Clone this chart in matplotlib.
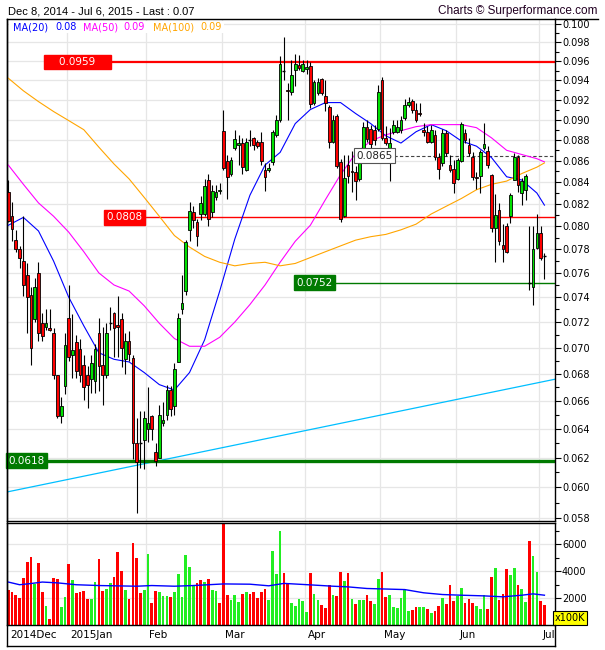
import numpy as np
import matplotlib
matplotlib.use('Agg')
import matplotlib.pyplot as plt
from matplotlib.lines import Line2D
from matplotlib.ticker import FixedLocator, NullFormatter, FuncFormatter

#=========================================================================
# daily candles Dec 8 2014 .. Jul 6 2015
opens = [0.0831, 0.0809, 0.0788, 0.0780, 0.0770, 0.0758, 0.0742, 0.0722, 0.0760, 0.0719,
         0.0716, 0.0715, 0.0711, 0.0679, 0.0649, 0.0671, 0.0723, 0.0694, 0.0704, 0.0699,
         0.0687, 0.0679, 0.0676, 0.0675, 0.0711, 0.0687, 0.0679, 0.0719, 0.0727, 0.0718,
         0.0722, 0.0691, 0.0705, 0.0692, 0.0630, 0.0630, 0.0632, 0.0640, 0.0649, 0.0624,
         0.0620, 0.0644, 0.0650, 0.0668, 0.0656, 0.0689, 0.0730, 0.0745, 0.0797, 0.0813,
         0.0804, 0.0811, 0.0811, 0.0842, 0.0813, 0.0826, 0.0832, 0.0889, 0.0860, 0.0848,
         0.0872, 0.0875, 0.0877, 0.0851, 0.0880, 0.0882, 0.0878, 0.0878, 0.0851, 0.0851,
         0.0859, 0.0885, 0.0900, 0.0950, 0.0930, 0.0928, 0.0951, 0.0956, 0.0949, 0.0952,
         0.0955, 0.0917, 0.0927, 0.0941, 0.0924, 0.0913, 0.0878, 0.0904, 0.0859, 0.0809,
         0.0856, 0.0850, 0.0849, 0.0843, 0.0860, 0.0893, 0.0891, 0.0890, 0.0891, 0.0940,
         0.0882, 0.0871, 0.0888, 0.0888, 0.0890, 0.0902, 0.0915, 0.0919, 0.0910, 0.0907,
         0.0890, 0.0888, 0.0878, 0.0885, 0.0864, 0.0858, 0.0887, 0.0856, 0.0852, 0.0843,
         0.0860, 0.0887, 0.0875, 0.0864, 0.0845, 0.0846, 0.0872, 0.0869, 0.0847, 0.0799,
         0.0815, 0.0784, 0.0800, 0.0809, 0.0842, 0.0864, 0.0830, 0.0833, 0.0752, 0.0748,
         0.0781, 0.0794, 0.0774]
highs = [0.0842, 0.0822, 0.0797, 0.0783, 0.0809, 0.0768, 0.0748, 0.0756, 0.0769, 0.0727,
         0.0730, 0.0730, 0.0715, 0.0679, 0.0663, 0.0711, 0.0750, 0.0726, 0.0710, 0.0707,
         0.0694, 0.0686, 0.0694, 0.0703, 0.0723, 0.0716, 0.0719, 0.0732, 0.0728, 0.0741,
         0.0727, 0.0711, 0.0713, 0.0694, 0.0648, 0.0653, 0.0653, 0.0670, 0.0650, 0.0630,
         0.0657, 0.0659, 0.0672, 0.0671, 0.0688, 0.0727, 0.0758, 0.0788, 0.0822, 0.0818,
         0.0807, 0.0827, 0.0843, 0.0848, 0.0837, 0.0837, 0.0839, 0.0910, 0.0866, 0.0864,
         0.0890, 0.0885, 0.0882, 0.0882, 0.0890, 0.0883, 0.0880, 0.0888, 0.0858, 0.0858,
         0.0890, 0.0905, 0.0965, 0.0986, 0.0937, 0.0961, 0.0967, 0.0966, 0.0961, 0.0961,
         0.0959, 0.0940, 0.0942, 0.0942, 0.0940, 0.0915, 0.0905, 0.0906, 0.0862, 0.0866,
         0.0866, 0.0869, 0.0855, 0.0864, 0.0898, 0.0900, 0.0895, 0.0895, 0.0935, 0.0943,
         0.0894, 0.0892, 0.0900, 0.0900, 0.0904, 0.0921, 0.0923, 0.0921, 0.0917, 0.0917,
         0.0897, 0.0894, 0.0895, 0.0890, 0.0867, 0.0891, 0.0890, 0.0866, 0.0861, 0.0863,
         0.0898, 0.0891, 0.0882, 0.0868, 0.0849, 0.0870, 0.0897, 0.0874, 0.0848, 0.0829,
         0.0821, 0.0802, 0.0803, 0.0830, 0.0867, 0.0866, 0.0844, 0.0848, 0.0800, 0.0800,
         0.0811, 0.0800, 0.0777]
lows = [0.0804, 0.0787, 0.0778, 0.0764, 0.0741, 0.0711, 0.0687, 0.0720, 0.0705, 0.0705,
        0.0714, 0.0713, 0.0676, 0.0648, 0.0644, 0.0665, 0.0690, 0.0677, 0.0677, 0.0674,
        0.0661, 0.0655, 0.0666, 0.0666, 0.0667, 0.0657, 0.0677, 0.0714, 0.0693, 0.0693,
        0.0685, 0.0680, 0.0690, 0.0619, 0.0583, 0.0613, 0.0612, 0.0631, 0.0632, 0.0614,
        0.0620, 0.0642, 0.0646, 0.0649, 0.0650, 0.0689, 0.0726, 0.0742, 0.0787, 0.0799,
        0.0783, 0.0806, 0.0809, 0.0800, 0.0808, 0.0824, 0.0829, 0.0851, 0.0825, 0.0846,
        0.0870, 0.0856, 0.0848, 0.0850, 0.0874, 0.0870, 0.0872, 0.0856, 0.0832, 0.0849,
        0.0856, 0.0883, 0.0898, 0.0940, 0.0900, 0.0925, 0.0934, 0.0951, 0.0948, 0.0946,
        0.0912, 0.0915, 0.0925, 0.0925, 0.0909, 0.0872, 0.0877, 0.0853, 0.0804, 0.0808,
        0.0839, 0.0831, 0.0824, 0.0841, 0.0859, 0.0878, 0.0870, 0.0875, 0.0889, 0.0880,
        0.0875, 0.0841, 0.0886, 0.0887, 0.0887, 0.0900, 0.0913, 0.0907, 0.0898, 0.0904,
        0.0884, 0.0877, 0.0877, 0.0861, 0.0843, 0.0855, 0.0865, 0.0849, 0.0830, 0.0842,
        0.0859, 0.0877, 0.0865, 0.0842, 0.0834, 0.0830, 0.0870, 0.0853, 0.0795, 0.0769,
        0.0784, 0.0769, 0.0777, 0.0803, 0.0842, 0.0831, 0.0819, 0.0824, 0.0746, 0.0734,
        0.0780, 0.0771, 0.0755]
closes = [0.0805, 0.0798, 0.0780, 0.0773, 0.0750, 0.0740, 0.0700, 0.0748, 0.0711, 0.0709,
          0.0719, 0.0714, 0.0679, 0.0649, 0.0656, 0.0702, 0.0693, 0.0698, 0.0682, 0.0679,
          0.0670, 0.0672, 0.0688, 0.0699, 0.0686, 0.0679, 0.0711, 0.0719, 0.0715, 0.0716,
          0.0700, 0.0705, 0.0695, 0.0630, 0.0617, 0.0630, 0.0648, 0.0644, 0.0640, 0.0618,
          0.0650, 0.0646, 0.0668, 0.0654, 0.0684, 0.0723, 0.0735, 0.0786, 0.0814, 0.0806,
          0.0792, 0.0821, 0.0836, 0.0807, 0.0832, 0.0831, 0.0833, 0.0853, 0.0845, 0.0861,
          0.0881, 0.0877, 0.0854, 0.0878, 0.0880, 0.0875, 0.0874, 0.0860, 0.0845, 0.0853,
          0.0888, 0.0900, 0.0957, 0.0950, 0.0929, 0.0945, 0.0957, 0.0953, 0.0957, 0.0954,
          0.0916, 0.0938, 0.0938, 0.0927, 0.0917, 0.0878, 0.0900, 0.0855, 0.0807, 0.0844,
          0.0846, 0.0849, 0.0841, 0.0860, 0.0893, 0.0881, 0.0876, 0.0880, 0.0928, 0.0882,
          0.0877, 0.0877, 0.0895, 0.0893, 0.0900, 0.0915, 0.0918, 0.0910, 0.0900, 0.0906,
          0.0888, 0.0878, 0.0890, 0.0864, 0.0852, 0.0887, 0.0867, 0.0851, 0.0839, 0.0861,
          0.0896, 0.0880, 0.0867, 0.0845, 0.0844, 0.0868, 0.0876, 0.0856, 0.0799, 0.0810,
          0.0787, 0.0780, 0.0778, 0.0828, 0.0864, 0.0837, 0.0841, 0.0846, 0.0752, 0.0780,
          0.0794, 0.0773, 0.0774]

# volume in units of 100K shares
volumes = [2640, 2470, 2200, 2030, 3510, 4690, 5060, 3090, 4620, 2470,
           1430, 420, 3510, 3430, 1360, 2100, 4550, 3360, 2400, 2470,
           2570, 1950, 1950, 3210, 4920, 2540, 2690, 3140, 3580, 5430,
           4050, 2620, 1950, 6100, 4990, 2400, 2620, 5290, 1660, 2540,
           2470, 2170, 2170, 2100, 2470, 3800, 2100, 5210, 4320, 2920,
           3140, 3360, 3210, 3430, 2620, 2540, 1660, 7580, 2250, 1880,
           2250, 1730, 2320, 2470, 2320, 2470, 2030, 2470, 2690, 1880,
           5510, 3800, 6990, 3880, 3060, 1660, 1430, 1950, 1800, 990,
           3880, 2320, 1880, 1510, 1280, 2990, 2250, 2170, 3950, 3290,
           3880, 1950, 1580, 1880, 1880, 2250, 1800, 1580, 3430, 3950,
           2100, 2250, 1360, 1280, 2030, 2690, 1060, 1140, 1360, 1360,
           1360, 1210, 910, 1060, 1430, 2030, 1580, 2990, 1800, 2170,
           2770, 1660, 1950, 1660, 1430, 1210, 2250, 1210, 3580, 4250,
           1880, 2320, 4170, 3730, 4250, 2990, 2690, 1730, 6250, 5140,
           3950, 1800, 1510]
vol_dir = list('rrrrrrrgrr' 'grrrggrgrr' 'rrggrrggrr' 'rgrrrrggrr' 'gggrgggggg'
               'rrgrggrrrg' 'ggrgrrrrrg' 'gggrrggggg' 'rggrrrgrrg' 'rgrggrrggr'
               'rggggggrrg' 'grgrrgrrrg' 'grrrgggrrg' 'rrrggrggrg' 'grr')

# moving averages (candle index, value)
ma_idx = [0, 4, 8, 12, 16, 20, 24, 28, 32, 36, 40, 44, 48, 52, 56, 60, 64, 68,
          72, 76, 80, 84, 88, 92, 96, 100, 104, 108, 112, 116, 120, 124, 128,
          132, 136, 140, 142]
ma20 = [0.0801, 0.0808, 0.0796, 0.0770, 0.0740, 0.0717, 0.0696, 0.0691, 0.0689,
        0.0681, 0.0672, 0.0668, 0.0681, 0.0706, 0.0745, 0.0789, 0.0828, 0.0856,
        0.0868, 0.0896, 0.0910, 0.0917, 0.0917, 0.0906, 0.0896, 0.0884, 0.0877,
        0.0888, 0.0895, 0.0889, 0.0879, 0.0874, 0.0863, 0.0845, 0.0842, 0.0830,
        0.0819]
ma50 = [0.0856, 0.0838, 0.0821, 0.0809, 0.0795, 0.0778, 0.0760, 0.0750, 0.0745,
        0.0733, 0.0719, 0.0707, 0.0701, 0.0701, 0.0708, 0.0720, 0.0734, 0.0750,
        0.0769, 0.0787, 0.0801, 0.0824, 0.0847, 0.0867, 0.0879, 0.0885, 0.0889,
        0.0893, 0.0895, 0.0895, 0.0895, 0.0892, 0.0882, 0.0870, 0.0866, 0.0862,
        0.0859]
ma100 = [0.0942, 0.0929, 0.0918, 0.0908, 0.0899, 0.0890, 0.0873, 0.0857, 0.0843,
         0.0826, 0.0809, 0.0792, 0.0782, 0.0774, 0.0769, 0.0766, 0.0768, 0.0769,
         0.0766, 0.0768, 0.0773, 0.0778, 0.0783, 0.0788, 0.0791, 0.0793, 0.0797,
         0.0802, 0.0811, 0.0818, 0.0825, 0.0833, 0.0838, 0.0841, 0.0848, 0.0854,
         0.0858]

vol_ma_idx = [0, 3, 6, 9, 13, 18, 24, 34, 38, 44, 49, 57, 64, 69, 73, 80, 86, 90,
              95, 105, 110, 115, 120, 126, 131, 136, 139, 142]
vol_ma = [3200, 3000, 3090, 3200, 3140, 3000, 2940, 2890, 2940, 2890, 2940, 3060,
          3040, 2920, 3100, 2990, 2890, 2840, 2720, 2640, 2400, 2270, 2220, 2170,
          2100, 2220, 2320, 2220]

# support / resistance levels: (value, first candle index)
levels = [0.0959, 0.0808, 0.0752, 0.0618]
level_start = [9.7, 25.6, 76.0, -0.34]
level_color = ['#ff0000', '#ff0000', '#007a00', '#007a00']
level_lw = [1.6, 1.0, 1.0, 2.4]
level_text = ['    0.0959    ', '0.0808', '0.0752', '0.0618']
last_mark = 0.0865
last_mark_start = 91.8

# trend line end points (index, value)
trend_x = [-0.34, 144.8]
trend_y = [0.0597, 0.0676]

month_pos = [-0.5, 15.5, 36.5, 56.5, 78.5, 98.5, 118.5, 140.5]
month_lab = ['2014Dec', '2015Jan', 'Feb', 'Mar', 'Apr', 'May', 'Jun', 'Jul']

legend_items = [('MA(20)', '0.08', '#0000ff'), ('MA(50)', '0.09', '#ff00ff'),
                ('MA(100)', '0.09', '#ffa500')]

#=========================================================================
W, H = 605.0, 650.0
def fx(px):
  return px / W
def fy(py):
  return 1.0 - py / H

plt.rcParams['font.family'] = ['DejaVu Sans']

fig = plt.figure(figsize=(6.05, 6.5), dpi=100)
fig.patch.set_facecolor('white')

ax = fig.add_axes([fx(7), fy(521), (555 - 7) / W, (521 - 19) / H])
axv = fig.add_axes([fx(7), fy(625), (555 - 7) / W, (625 - 523) / H])

n = len(opens)
idx = np.arange(n)
o = np.array(opens)
h = np.array(highs)
l = np.array(lows)
c = np.array(closes)

grid_col = '#e6e6e6'

# ---- price panel
ax.set_yscale('log')
ax.set_xlim(-0.34, 144.8)
ax.set_ylim(0.05782, 0.10055)

yt = np.arange(0.058, 0.1001, 0.002)
ax.yaxis.set_major_locator(FixedLocator(yt))
ax.yaxis.set_minor_locator(FixedLocator(np.arange(0.059, 0.1, 0.002)))
ax.yaxis.set_major_formatter(FuncFormatter(lambda v, p: '%.3f' % v))
ax.yaxis.set_minor_formatter(NullFormatter())
ax.yaxis.tick_right()
ax.tick_params(axis='y', which='major', direction='out', length=4, width=0.8,
               labelsize=7, pad=1)
ax.tick_params(axis='y', which='minor', direction='out', length=3, width=0.8)
ax.set_xticks([])
for yv in yt:
  ax.axhline(yv, color=grid_col, lw=0.9, zorder=0)
for mp in month_pos[1:]:
  ax.axvline(mp, color=grid_col, lw=0.9, zorder=0)

# trend line
ax.plot(trend_x, trend_y, color='#00bfff', lw=0.9, zorder=1)

# levels
for lv, st, col, lw in zip(levels, level_start, level_color, level_lw):
  ax.plot([st, 144.8], [lv, lv], color=col, lw=lw, zorder=2, solid_capstyle='butt')
ax.plot([last_mark_start, 144.8], [last_mark, last_mark], color='#444444',
        lw=0.8, ls=(0, (3, 2)), zorder=2)

# moving averages
ax.plot(ma_idx, ma20, color='#0000ff', lw=0.8, zorder=3)
ax.plot(ma_idx, ma50, color='#ff00ff', lw=0.8, zorder=3)
ax.plot(ma_idx, ma100, color='#ffa500', lw=0.8, zorder=3)

# candles
ax.vlines(idx, l, h, color='black', lw=0.8, zorder=4)
up = c > o
dn = c < o
flat = c == o
body_lo = np.minimum(o, c)
body_hi = np.maximum(o, c)
ax.bar(idx[up], (body_hi - body_lo)[up], bottom=body_lo[up], width=0.72,
       color='#00e000', edgecolor='black', linewidth=0.6, zorder=5)
ax.bar(idx[dn], (body_hi - body_lo)[dn], bottom=body_lo[dn], width=0.72,
       color='#ff0000', edgecolor='black', linewidth=0.6, zorder=5)
ax.hlines(c[flat], idx[flat] - 0.4, idx[flat] + 0.4, color='black', lw=1.0, zorder=5)

# level labels
lab_style = dict(fontsize=7.5, va='center', ha='left', zorder=6)
for lv, st, col, txt in zip(levels, level_start, level_color, level_text):
  ax.text(st + 0.35, lv, txt, color='white',
          bbox=dict(boxstyle='square,pad=0.22', fc=col, ec=col), **lab_style)
ax.text(last_mark_start + 0.35, last_mark, '%.4f' % last_mark, color='#222222',
        bbox=dict(boxstyle='square,pad=0.22', fc='white', ec='#555555', lw=0.8),
        **lab_style)

for sp in ax.spines.values():
  sp.set_color('black')
  sp.set_linewidth(1.0)

# legend row
lx = [13, 55, 83, 123, 153, 200]
fig.patches.append(matplotlib.patches.Rectangle((fx(9), fy(33)), fx(224) - fx(9),
                   fy(21) - fy(33), transform=fig.transFigure, fc='white',
                   ec='none', zorder=10))
k = 0
for name, val, col in legend_items:
  fig.text(fx(lx[k]), fy(27.5), name, color=col, fontsize=7, va='center', zorder=11)
  fig.text(fx(lx[k + 1]), fy(27.5), val, color=col, fontsize=7, va='center', zorder=11)
  k += 2

# ---- volume panel
vcol = ['#ff0000' if d == 'r' else '#22ee22' for d in vol_dir]
axv.bar(idx, volumes, width=0.72, color=vcol, linewidth=0, zorder=2)
axv.plot(vol_ma_idx, vol_ma, color='#0000ff', lw=1.0, zorder=3)
axv.set_xlim(-0.34, 144.8)
axv.set_ylim(0, 7600)
axv.yaxis.tick_right()
axv.yaxis.set_major_locator(FixedLocator([2000, 4000, 6000]))
axv.yaxis.set_minor_locator(FixedLocator([1000, 3000, 5000, 7000]))
axv.yaxis.set_major_formatter(FuncFormatter(lambda v, p: '%d' % v))
axv.tick_params(axis='y', which='major', direction='out', length=4, width=0.8,
                labelsize=7, pad=1)
axv.tick_params(axis='y', which='minor', direction='out', length=3, width=0.8)
axv.set_xticks([])
for yv in [2000, 4000, 6000]:
  axv.axhline(yv, color=grid_col, lw=0.9, zorder=0)
for mp in month_pos[1:]:
  axv.axvline(mp, color=grid_col, lw=0.9, zorder=0)
for sp in axv.spines.values():
  sp.set_color('black')
  sp.set_linewidth(1.0)

for mp, ml in zip(month_pos, month_lab):
  axv.text(mp + 0.9, -0.10, ml, transform=axv.get_xaxis_transform(), fontsize=7.5,
           ha='left', va='center')

axv.text(1.0, 0.02, 'x100K', transform=axv.transAxes, fontsize=7, ha='left',
         va='bottom', bbox=dict(boxstyle='square,pad=0.2', fc='#ffff00', ec='black',
         lw=0.8))

# outer frame lines
frame = [([7, 7], [19, 646]), ([7, 555], [646, 646]), ([555, 555], [625, 646]),
         ([555, 598], [19, 19])]
for xs, ys in frame:
  fig.lines.append(Line2D([fx(v) for v in xs], [fy(v) for v in ys],
                   transform=fig.transFigure, color='black', lw=1.0))

# header
fig.text(fx(8), fy(11), 'Dec 8, 2014 - Jul 6, 2015 - Last : 0.07', fontsize=8,
         family=['Liberation Sans'], va='center', ha='left')
fig.text(fx(598), fy(11), 'Charts \u00a9 Surperformance.com', fontsize=8.5,
         family=['Liberation Sans'], va='center', ha='right', color='#220022')

fig.savefig('out.png', dpi=100)
